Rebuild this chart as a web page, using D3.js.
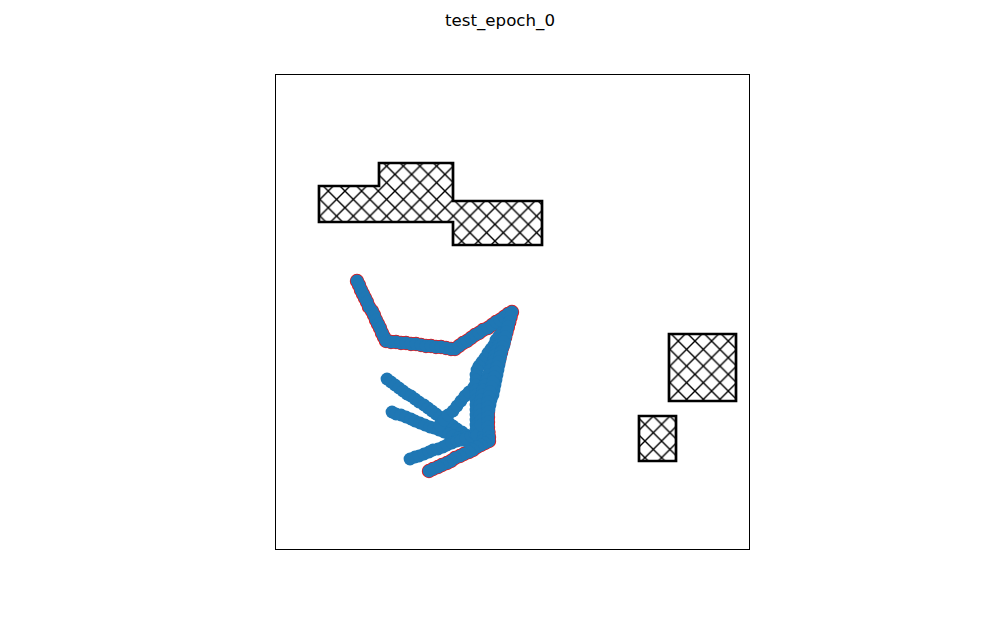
<!DOCTYPE html>
<html><head><meta charset="utf-8">
<script src="https://cdn.jsdelivr.net/npm/d3@7"></script>
<style>body{margin:0;background:#fff}svg{display:block}</style>
</head><body>
<svg id="c" width="1000" height="618"></svg>
<script>
const title = "test_epoch_0";
const xDomain = [0, 475];
const yDomain = [0, 476];

// obstacles (polygons, data units)
const obstacleBig = [[44,364],[104,364],[104,387],[178,387],[178,349],[267,349],[267,305],[178,305],[178,328],[44,328]];
const obstacleSquare = [[394,216],[461,216],[461,149],[394,149]];
const obstacleSmall = [[364,134],[401,134],[401,89],[364,89]];

// final path (red-edged markers)
const pathA = [[82,269],[84,265],[86,260],[88,256],[90,252],[92,248],[94,243],[97,239],[99,235],[101,230],[103,226],[105,222],[107,217],[109,213],[111,209]];
const pathB = [[116,208],[121,208],[126,207],[131,207],[136,206],[141,206],[146,205],[151,204],[156,204],[161,203],[166,203],[171,202],[176,201],[180,201]];
const pathC = [[184,204],[188,207],[192,209],[196,212],[200,215],[204,217],[208,220],[213,222],[217,225],[221,228],[225,230],[229,233],[233,236],[237,238]];
const pathD = [[235.6,233],[234.3,228],[232.9,223],[231.5,218],[230.2,213],[228.8,208],[227.4,203],[226.1,198],[224.7,193],[223.4,188],[222,183],[220.6,178],[219.3,173],[217.9,168],[216.5,163],[215.2,158],[213.8,153],[213,148],[213,143],[213,138],[213,133],[213,128],[213,123],[213.5,118],[214,113],[214,109]];
const pathE = [[210,107],[206,105],[202,103],[198,100],[194,98],[189,96],[185,94],[180,92],[176,89],[172,87],[167,85],[163,83],[158,81],[154,79]];

// explored branches (plain markers)
const branch1 = [[112,171],[116,168],[120,165],[124,162],[128,159],[132,156],[136,154],[140,151],[144,148],[149,145],[153,142],[157,139],[161,136],[165,133],[170,130],[174,127],[178,124],[182,121],[187,118],[191,115],[195,112]];
const branch2 = [[117,138],[121,136],[126,135],[131,133],[136,131],[140,129],[145,127],[150,125],[155,123],[159,122],[164,120],[169,118],[174,116],[178,114],[183,112],[188,110],[193,108]];
const branch3 = [[135,91],[140,93],[144,94],[149,96],[154,98],[158,100],[163,101],[168,103],[172,105],[177,107],[182,109],[186,110],[191,112],[196,114],[200,116],[205,118],[210,120]];
const branch4 = [[165,125],[169,130],[173,135],[178,139],[182,144],[186,149],[190,154],[194,158],[199,163],[203,168]];
const band1 = [[233,227],[230,223],[227,218],[224,214],[221,210],[219,205],[216,201],[213,197],[210,192],[207,188],[204,184],[202,180],[201,175],[201,170],[201,165],[201,160],[201,155],[201,150],[201,145],[201,140],[201,135],[201,130],[201,125],[201,120],[202,115]];
const band2 = [[233,225],[232,220],[231,215],[230,210],[229,205],[227,200],[226,195],[225,190],[224,185],[223,180],[222,175],[221,170],[220,165],[219,160],[218,155],[216,150],[215,145],[214,140],[213,135],[212,130],[211,125],[210,120],[209,115],[208,110]];
const band3 = [[226,210],[224,205],[222,200],[220,195],[219,190],[217,185],[215,180],[213,175],[212,170],[210,165],[208,160],[207,155],[206,150],[205,145],[205,140],[205,135],[206,130],[206,125]];

const pathPts = [].concat(pathA, pathB, pathC, pathD, pathE);
const branchPts = [].concat(branch1, branch2, branch3, branch4, band1, band2, band3);

const svg = d3.select("#c");
const L = 275, R = 750, T = 74, B = 550;
const x = d3.scaleLinear().domain(xDomain).range([L, R]);
const y = d3.scaleLinear().domain(yDomain).range([B, T]);

// hatch pattern
const h = 100/6;
const defs = svg.append("defs");
const pat = defs.append("pattern").attr("id","hx").attr("patternUnits","userSpaceOnUse")
  .attr("x", 11.6).attr("y", 7.7).attr("width", h).attr("height", h);
pat.append("rect").attr("width",h).attr("height",h).attr("fill","#fff");
[[0,0,h,h],[0,h,h,0],[-h/2,h/2,h/2,-h/2],[h/2,3*h/2,3*h/2,h/2],[-h/2,h/2,h/2,3*h/2],[h/2,-h/2,3*h/2,h/2]].forEach(l=>{
  pat.append("line").attr("x1",l[0]).attr("y1",l[1]).attr("x2",l[2]).attr("y2",l[3])
    .attr("stroke","#000").attr("stroke-width",1.4);
});

svg.append("text").attr("x",500).attr("y",26).attr("text-anchor","middle")
  .attr("font-family","DejaVu Sans").attr("font-size","16.67px").text(title);

const clip = defs.append("clipPath").attr("id","ax");
clip.append("rect").attr("x",L).attr("y",T).attr("width",R-L).attr("height",B-T);

const g = svg.append("g").attr("clip-path","url(#ax)");
const line = d3.line().x(d=>x(d[0])).y(d=>y(d[1]));
[obstacleBig, obstacleSquare, obstacleSmall].forEach(p=>{
  g.append("path").attr("d", line(p)+"Z").attr("fill","url(#hx)")
    .attr("stroke","#000").attr("stroke-width",2.7).attr("stroke-linejoin","miter");
});

const rad = 6.4;
// red-edged path markers
g.append("g").selectAll("circle").data(pathPts).join("circle")
  .attr("cx",d=>x(d[0])).attr("cy",d=>y(d[1])).attr("r",rad)
  .attr("fill","#1f77b4").attr("stroke","#ee1111").attr("stroke-width",1.6);
// all markers in blue on top
g.append("g").selectAll("circle").data(branchPts.concat(pathPts)).join("circle")
  .attr("cx",d=>x(d[0])).attr("cy",d=>y(d[1])).attr("r",rad)
  .attr("fill","#1f77b4");

svg.append("rect").attr("x",L+0.5).attr("y",T+0.5).attr("width",R-L-1).attr("height",B-T-1)
  .attr("fill","none").attr("stroke","#000").attr("stroke-width",1);
</script>
</body></html>
